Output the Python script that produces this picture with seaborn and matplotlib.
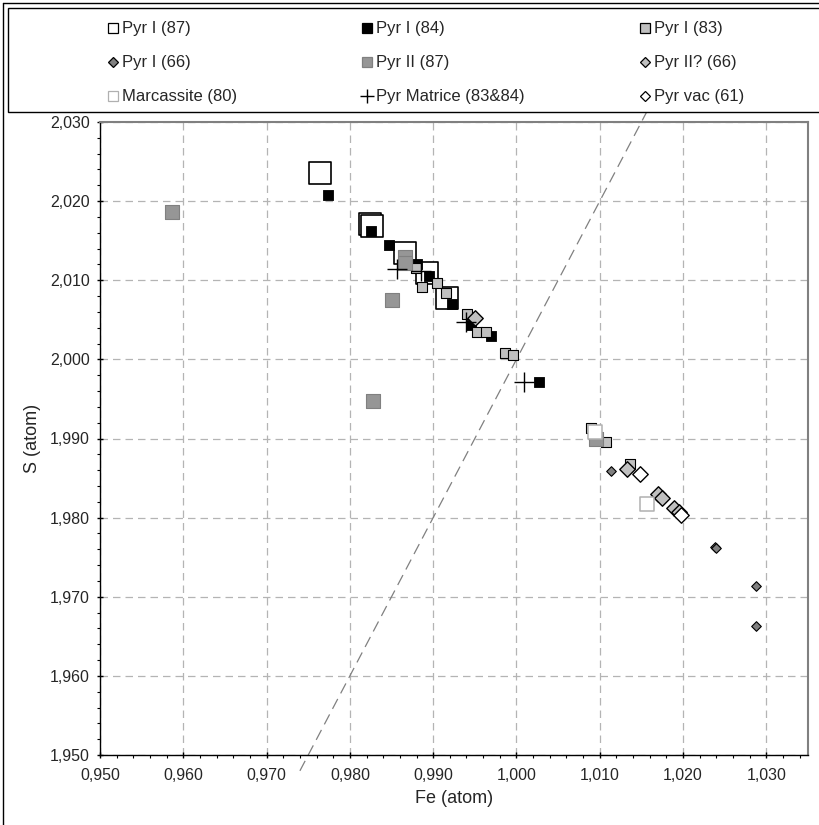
import matplotlib
matplotlib.use("Agg")
import matplotlib.pyplot as plt
import matplotlib.ticker as mticker
from matplotlib.lines import Line2D
from matplotlib.patches import Rectangle
import seaborn as sns

# --- data (Fe, S in atoms per formula unit) ---
pyr1_87_fe = [0.9764, 0.9824, 0.9826, 0.9866, 0.9893, 0.9916]
pyr1_87_s = [2.0235, 2.0171, 2.0169, 2.0135, 2.0109, 2.0077]

pyr1_84_fe = [0.9774, 0.9825, 0.9847, 0.9880, 0.9895, 0.9923, 0.9945, 0.9970, 1.0027]
pyr1_84_s = [2.0208, 2.0162, 2.0144, 2.0120, 2.0105, 2.0070, 2.0044, 2.0030, 1.9971]

pyr1_83_fe = [0.9879, 0.9886, 0.9904, 0.9915, 0.9941, 0.9953, 0.9964, 0.9986, 0.9996,
              1.0089, 1.0092, 1.0108, 1.0136]
pyr1_83_s = [2.0115, 2.0092, 2.0097, 2.0084, 2.0057, 2.0034, 2.0034, 2.0008, 2.0006,
             1.9913, 1.9908, 1.9896, 1.9868]

pyr1_66_fe = [1.0114, 1.0238, 1.0239, 1.0288, 1.0287]
pyr1_66_s = [1.9859, 1.9763, 1.9761, 1.9714, 1.9663]

pyr2_87_fe = [0.9586, 0.9850, 0.9828, 0.9866, 0.9866, 1.0096]
pyr2_87_s = [2.0186, 2.0075, 1.9948, 2.0130, 2.0122, 1.9900]

pyr2q_66_fe = [0.9950, 1.0133, 1.0170, 1.0175, 1.0189, 1.0195]
pyr2q_66_s = [2.0052, 1.9861, 1.9830, 1.9825, 1.9812, 1.9807]

marc_80_fe = [1.0094, 1.0157]
marc_80_s = [1.9908, 1.9817]

matrice_fe = [0.9857, 0.9885, 0.9940, 1.0009]
matrice_s = [2.0114, 2.0112, 2.0047, 1.9972]

vac_61_fe = [1.0148, 1.0198]
vac_61_s = [1.9855, 1.9803]

# stoichiometric FeS2 reference line, S = 2 Fe
ref_fe = [0.9740, 1.0165]
ref_s = [1.9480, 2.0330]

series = [
    ("Pyr I (87)", pyr1_87_fe, pyr1_87_s, "s", 230, "white", "black", 1.2),
    ("Pyr I (84)", pyr1_84_fe, pyr1_84_s, "s", 42, "black", "black", 0.6),
    ("Pyr I (83)", pyr1_83_fe, pyr1_83_s, "s", 42, "#c0c0c0", "black", 0.8),
    ("Pyr I (66)", pyr1_66_fe, pyr1_66_s, "D", 24, "#808080", "black", 0.8),
    ("Pyr II (87)", pyr2_87_fe, pyr2_87_s, "s", 88, "#969696", "#808080", 0.8),
    ("Pyr II? (66)", pyr2q_66_fe, pyr2q_66_s, "D", 62, "#c0c0c0", "black", 1.0),
    ("Marcassite (80)", marc_80_fe, marc_80_s, "s", 115, "white", "#b0b0b0", 1.1),
    ("Pyr Matrice (83&84)", matrice_fe, matrice_s, "+", 200, "black", "black", 1.0),
    ("Pyr vac (61)", vac_61_fe, vac_61_s, "D", 62, "white", "black", 1.0),
]

sns.set_theme(style="white")
plt.rcParams["font.family"] = ["Liberation Sans", "DejaVu Sans"]
narrow = ["Liberation Sans Narrow", "DejaVu Sans Condensed", "Liberation Sans", "DejaVu Sans"]

W, H = 819, 825
fig = plt.figure(figsize=(W / 100, H / 100), dpi=100)
ax = fig.add_axes([100 / W, 1 - 755 / H, 708 / W, 633 / H])

ax.plot(ref_fe, ref_s, color="#808080", linewidth=0.9, dashes=(9, 5), clip_on=False, zorder=1)

for i, (name, fe, s, mk, size, fc, ec, lw) in enumerate(series):
    if mk == "+":
        sns.scatterplot(x=fe, y=s, marker="+", s=size, color=fc, linewidth=lw, ax=ax,
                        zorder=3 + i, legend=False)
    else:
        sns.scatterplot(x=fe, y=s, marker=mk, s=size, color=fc, edgecolor=ec, linewidth=lw,
                        ax=ax, zorder=3 + i, legend=False)

ax.set_xlim(0.950, 1.035)
ax.set_ylim(1.950, 2.030)
ax.set_xticks([0.950, 0.960, 0.970, 0.980, 0.990, 1.000, 1.010, 1.020, 1.030])
ax.xaxis.set_minor_locator(mticker.MultipleLocator(0.002))
ax.yaxis.set_major_locator(mticker.MultipleLocator(0.010))
ax.yaxis.set_minor_locator(mticker.MultipleLocator(0.002))
comma = mticker.FuncFormatter(lambda v, p: f"{v:.3f}".replace(".", ","))
ax.xaxis.set_major_formatter(comma)
ax.yaxis.set_major_formatter(comma)

ax.grid(True, which="major", color="#b4b4b4", linestyle=(0, (6, 4)), linewidth=0.9)
ax.tick_params(axis="both", which="major", direction="inout", length=5, width=1,
               color="black", labelsize=11.5, bottom=True, left=True)
ax.tick_params(axis="x", which="major", pad=7)
ax.tick_params(axis="y", which="major", pad=5)
ax.tick_params(axis="both", which="minor", direction="out", length=2.5, width=0.8,
               color="black", bottom=True, left=True)

for side in ("top", "right"):
    ax.spines[side].set_color("#808080")
    ax.spines[side].set_linewidth(1.5)
for side in ("left", "bottom"):
    ax.spines[side].set_color("black")
    ax.spines[side].set_linewidth(1.0)

ax.set_xlabel("Fe (atom)", fontsize=13, family=narrow, labelpad=5)
ax.set_ylabel("S (atom)", fontsize=13, family=narrow, labelpad=6)

# legend box laid out in 3 rows x 3 columns like the original sheet
fig.add_artist(Rectangle((8 / W, 1 - 112 / H), 830 / W, 104 / H, transform=fig.transFigure,
                         facecolor="white", edgecolor="black", linewidth=1.0))
col_x = [113, 367, 645]
row_y = [28, 62, 96]
for k, (name, fe, s, mk, size, fc, ec, lw) in enumerate(series):
    px, py = col_x[k % 3], row_y[k // 3]
    msize = 7 if mk == "s" else (5.5 if mk == "D" else 10)
    fig.add_artist(Line2D([px / W], [1 - py / H], transform=fig.transFigure, linestyle="none",
                          marker=mk, markersize=msize, markerfacecolor=fc, markeredgecolor=ec,
                          markeredgewidth=0.9 if mk != "+" else 1.0))
    fig.text((px + 9) / W, 1 - py / H, name, ha="left", va="center", fontsize=12, family=narrow)

# chart-area border on the left and top
fig.add_artist(Line2D([3 / W, 3 / W], [0, 1 - 3 / H], transform=fig.transFigure,
                      color="black", linewidth=1.0))
fig.add_artist(Line2D([3 / W, 1], [1 - 3 / H, 1 - 3 / H], transform=fig.transFigure,
                      color="black", linewidth=1.0))

fig.savefig("out.png", dpi=100)
